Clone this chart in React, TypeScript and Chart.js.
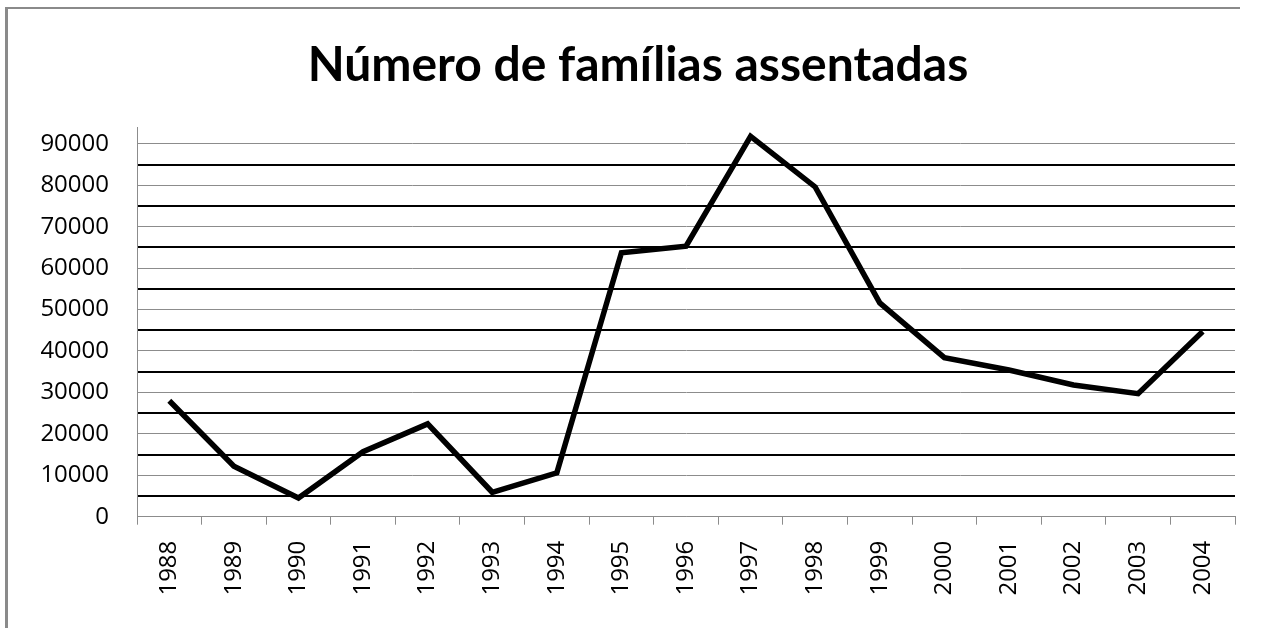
import React, { useEffect, useRef } from "react";
import { Chart, registerables } from "chart.js";

Chart.register(...registerables);

const years = ["1988", "1989", "1990", "1991", "1992", "1993", "1994", "1995", "1996", "1997", "1998", "1999", "2000", "2001", "2002", "2003", "2004"];
const families = [28000, 12200, 4500, 15700, 22400, 5900, 10600, 63700, 65300, 91800, 79600, 51600, 38400, 35400, 31800, 29700, 44700];
const yTicks = [0, 5000, 10000, 15000, 20000, 25000, 30000, 35000, 40000, 45000, 50000, 55000, 60000, 65000, 70000, 75000, 80000, 85000, 90000];
const yLabelStep = 10000;
const yMax = 94000;
const titleText = "Número de famílias assentadas";

export default function App() {
  const ref = useRef<HTMLCanvasElement | null>(null);

  useEffect(() => {
    if (!ref.current) return;
    const chart = new Chart(ref.current, {
      type: "line",
      data: {
        labels: years,
        datasets: [
          {
            data: families,
            borderColor: "#000",
            borderWidth: 5.5,
            pointRadius: 0,
            tension: 0,
            borderJoinStyle: "miter",
            borderCapStyle: "butt",
            fill: false,
          },
        ],
      },
      options: {
        responsive: false,
        animation: false,
        layout: { padding: { left: 41, right: 30, top: 0, bottom: 0 } },
        plugins: {
          legend: { display: false },
          tooltip: { enabled: false },
          title: {
            display: true,
            text: titleText,
            color: "#000",
            font: { family: "Lato", weight: "bold", size: 48 },
            padding: { top: 37, bottom: 32.7 },
          },
        },
        scales: {
          x: {
            offset: true,
            grid: {
              offset: true,
              drawOnChartArea: false,
              drawTicks: true,
              tickLength: 8,
              tickColor: "#8c8c8c",
              tickWidth: 1,
            },
            border: { color: "#8c8c8c", width: 1 },
            ticks: {
              color: "#000",
              font: { family: "Open Sans", size: 24 },
              minRotation: 90,
              maxRotation: 90,
              padding: 16,
            },
            afterFit: (scale: any) => {
              scale.height = 111.3;
            },
          },
          y: {
            min: 0,
            max: yMax,
            afterBuildTicks: (scale: any) => {
              scale.ticks = yTicks.map((v) => ({ value: v }));
            },
            grid: {
              drawTicks: false,
              color: (ctx: any) => (ctx.tick && ctx.tick.value % yLabelStep === 0 ? "#8c8c8c" : "#000"),
              lineWidth: (ctx: any) => (ctx.tick && ctx.tick.value % yLabelStep === 0 ? 1 : 2),
            },
            border: { color: "#8c8c8c", width: 1 },
            ticks: {
              color: "#000",
              font: { family: "Open Sans", size: 24 },
              padding: 28,
              autoSkip: false,
              callback: (v: any) => (Number(v) % yLabelStep === 0 ? String(v) : ""),
            },
            afterFit: (scale: any) => {
              scale.width = 96;
            },
          },
        },
      },
    });
    return () => chart.destroy();
  }, []);

  return (
    <div style={{ position: "absolute", left: 0, top: 0, width: 1265, height: 628, background: "#fff", overflow: "hidden" }}>
      <div
        style={{
          position: "absolute",
          left: 5,
          top: 7,
          width: 1232,
          height: 700,
          borderLeft: "3px solid #8a8a8a",
          borderTop: "2px solid #8a8a8a",
        }}
      />
      <canvas ref={ref} width={1265} height={628} style={{ position: "absolute", left: 0, top: 0 }} />
    </div>
  );
}
